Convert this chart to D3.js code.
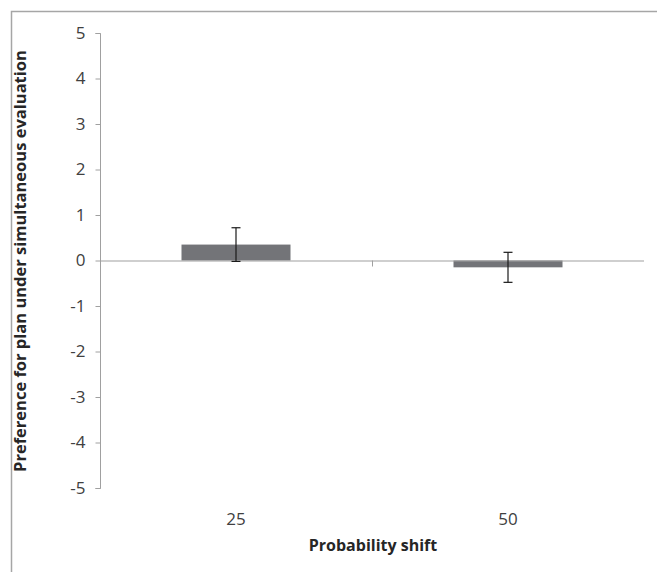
<!DOCTYPE html>
<html><head><meta charset="utf-8">
<script src="https://cdn.jsdelivr.net/npm/d3@7"></script>
<style>body{margin:0;background:#fff;}svg{display:block;}</style>
</head><body>
<script>
const categories = ["25", "50"];
const values = [0.35, -0.15];
const errors = [0.37, 0.33];
const yTicks = [-5, -4, -3, -2, -1, 0, 1, 2, 3, 4, 5];
const xTitle = "Probability shift";
const yTitle = "Preference for plan under simultaneous evaluation";

const W = 657, H = 572;
const svg = d3.select("body").append("svg").attr("width", W).attr("height", H);
const font = "'Open Sans', sans-serif";

// outer border (top and left visible)
svg.append("path").attr("d", `M11.5,${H} L11.5,11.5 L${W},11.5`)
  .attr("fill", "none").attr("stroke", "#a6a6a6").attr("stroke-width", 1.5);

const x = d3.scaleBand().domain(categories).range([100, 644]).paddingInner(0).paddingOuter(0);
const y = d3.scaleLinear().domain([-5, 5]).range([488, 33]);

// y axis
const gy = svg.append("g").attr("transform", "translate(100.5,0)")
  .call(d3.axisLeft(y).tickValues(yTicks).tickSize(5).tickPadding(10).tickFormat(d => String(d)));
gy.select(".domain").attr("stroke", "#a0a0a0").attr("d", `M-5,${y(5)+0.5}H0V${y(-5)+0.5}H-5`);
gy.selectAll(".tick line").attr("stroke", "#a0a0a0");
gy.selectAll(".tick text").attr("fill", "#404040").style("font-family", font).style("font-size", "17px");

// bars
const bw = 109;
svg.selectAll("rect.bar").data(categories).join("rect").attr("class", "bar")
  .attr("x", d => x(d) + x.bandwidth()/2 - bw/2)
  .attr("width", bw)
  .attr("y", (d, i) => y(Math.max(0, values[i])))
  .attr("height", (d, i) => Math.abs(y(values[i]) - y(0)))
  .attr("fill", "#737478");

// x axis at zero
const gx = svg.append("g").attr("transform", `translate(0,${y(0)})`);
gx.append("line").attr("x1", 100).attr("x2", 644).attr("y1", 0.5).attr("y2", 0.5).attr("stroke", "#a0a0a0").attr("stroke-width", 1.2);
gx.selectAll("line.sep").data(categories.slice(1)).join("line").attr("class", "sep")
  .attr("x1", d => x(d) + 0.5).attr("x2", d => x(d) + 0.5).attr("y1", 0).attr("y2", 6).attr("stroke", "#a0a0a0");

// category labels
svg.selectAll("text.cat").data(categories).join("text").attr("class", "cat")
  .attr("x", d => x(d) + x.bandwidth()/2).attr("y", 525)
  .attr("text-anchor", "middle").attr("fill", "#404040")
  .style("font-family", font).style("font-size", "17px").text(d => d);

// error bars
const eb = svg.selectAll("g.err").data(categories).join("g").attr("class", "err");
eb.append("line")
  .attr("x1", d => x(d) + x.bandwidth()/2).attr("x2", d => x(d) + x.bandwidth()/2)
  .attr("y1", (d, i) => y(values[i] + errors[i])).attr("y2", (d, i) => y(values[i] - errors[i]))
  .attr("stroke", "#1a1a1a").attr("stroke-width", 1.2);
eb.selectAll("line.cap").data((d, i) => [values[i] + errors[i], values[i] - errors[i]].map(v => ({d, v})))
  .join("line").attr("class", "cap")
  .attr("x1", o => x(o.d) + x.bandwidth()/2 - 4.5).attr("x2", o => x(o.d) + x.bandwidth()/2 + 4.5)
  .attr("y1", o => y(o.v)).attr("y2", o => y(o.v))
  .attr("stroke", "#1a1a1a").attr("stroke-width", 1.2);

// titles
svg.append("text").attr("x", 373).attr("y", 551).attr("text-anchor", "middle")
  .attr("fill", "#262626").style("font-family", font).style("font-weight", "bold").style("font-size", "16px")
  .text(xTitle);
svg.append("text").attr("transform", "translate(26,261) rotate(-90)").attr("text-anchor", "middle")
  .attr("fill", "#262626").style("font-family", font).style("font-weight", "bold").style("font-size", "16.5px")
  .text(yTitle);
</script>
</body></html>
